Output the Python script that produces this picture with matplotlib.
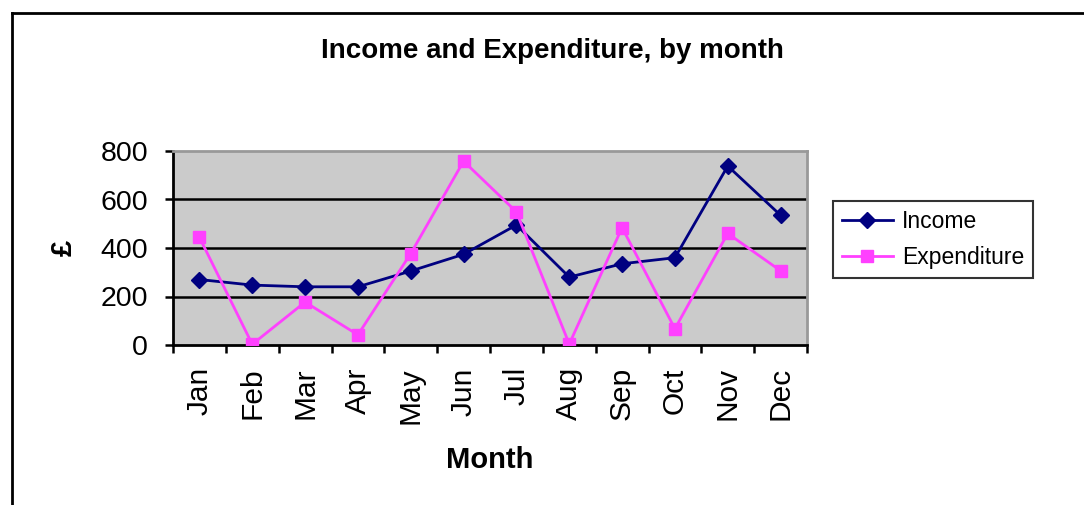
import matplotlib
matplotlib.use("Agg")
import matplotlib.pyplot as plt
from matplotlib.lines import Line2D
import numpy as np

months = ["Jan", "Feb", "Mar", "Apr", "May", "Jun", "Jul", "Aug", "Sep", "Oct", "Nov", "Dec"]
income = [270, 247, 240, 240, 305, 374, 495, 280, 335, 360, 738, 535]
expenditure = [444, 3, 177, 42, 377, 758, 549, 4, 484, 67, 460, 306]
yticks = [0, 200, 400, 600, 800]

plt.rcParams['font.family'] = ['Liberation Sans', 'DejaVu Sans']

fig = plt.figure(figsize=(10.84, 5.05), dpi=100)
ax = fig.add_axes([173/1084, 1-345/505, (807-173)/1084, (345-151)/505])
ax.set_facecolor('#CBCBCB')

x = np.arange(len(months))
ax.plot(x, income, color='#000080', lw=2.0, marker='D', markersize=8.5, label='Income', zorder=3)
ax.plot(x, expenditure, color='#FF40FF', lw=2.0, marker='s', markersize=9, label='Expenditure', zorder=3)

ax.set_xlim(-0.5, len(months) - 0.5)
ax.set_ylim(0, 800)
ax.set_yticks(yticks)
ax.set_yticklabels([str(v) for v in yticks], fontsize=20.5)
for v in yticks[1:-1]:
    ax.axhline(v, color='black', lw=1.8, zorder=1)

ax.set_xticks(np.arange(-0.5, len(months), 1.0))
ax.set_xticklabels([])
ax.set_xticks(x, minor=True)
ax.set_xticklabels(months, minor=True, rotation=90, fontsize=21.5)
ax.tick_params(axis='x', which='major', direction='out', length=6, width=1.8, color='black')
ax.tick_params(axis='x', which='minor', length=0, pad=16)
ax.tick_params(axis='y', direction='out', length=6, width=1.8, pad=12)

for s in ['top', 'right']:
    ax.spines[s].set_color('#999999')
    ax.spines[s].set_linewidth(2)
for s in ['left', 'bottom']:
    ax.spines[s].set_color('black')
    ax.spines[s].set_linewidth(2)

ax.set_xlabel('Month', fontsize=21, fontweight='bold', labelpad=16)
ax.set_ylabel('£', fontsize=21, fontweight='bold', labelpad=16)

fig.text(552/1084, 1-51/505, 'Income and Expenditure, by month', fontsize=20, fontweight='bold',
         ha='center', va='center')

leg = ax.legend(loc='upper left', bbox_to_anchor=(833/1084, 1-201/505), bbox_transform=fig.transFigure,
                fontsize=16.5, frameon=True, fancybox=False, edgecolor='black', borderpad=0.4,
                borderaxespad=0, handlelength=2.2, handletextpad=0.4, labelspacing=0.55)
leg.get_frame().set_linewidth(1.5)

# outer chart border
fig.add_artist(Line2D([12/1084, 1.0], [1-13/505, 1-13/505], transform=fig.transFigure, color='black', lw=2))
fig.add_artist(Line2D([12/1084, 12/1084], [1-13/505, 0.0], transform=fig.transFigure, color='black', lw=2))

fig.savefig('out.png', dpi=100)
